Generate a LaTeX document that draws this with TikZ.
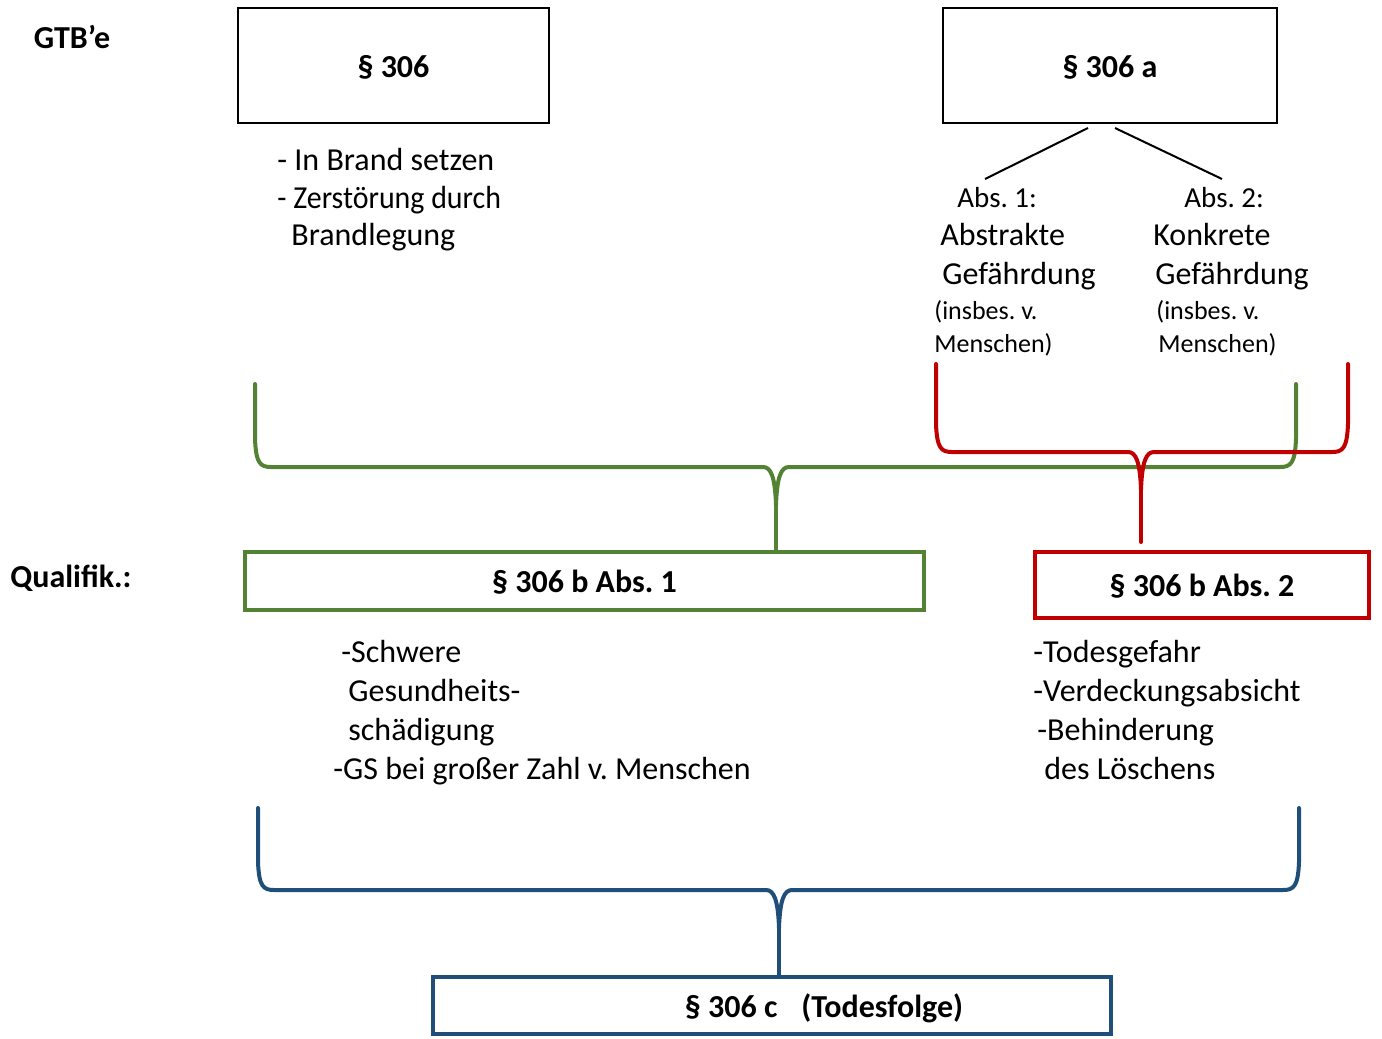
\documentclass[tikz,border=0pt]{standalone}
\usepackage{fontspec}
\usepackage{graphicx}
\setmainfont{Carlito}
\frenchspacing
\usetikzlibrary{positioning,calc}

\definecolor{gruen}{HTML}{548235}
\definecolor{rot}{HTML}{C00000}
\definecolor{blau}{HTML}{1F4E79}

\tikzset{
  kasten/.style={draw, line width=1pt, inner sep=0pt, text height=11.5pt, text depth=0pt,
    font=\fontsize{16}{19.5}\selectfont\bfseries},
  farbkasten/.style={kasten, line width=2pt, draw=#1},
  zeile/.style={anchor=base west, inner sep=0pt, font=\fontsize{16}{19.5}\selectfont},
  klein/.style={zeile, font=\fontsize{13}{16}\selectfont},
  absz/.style={zeile, font=\fontsize{14.5}{17}\selectfont},
  klammer/.style={line width=2pt, draw=#1, line join=round, line cap=round}
}

% geschweifte Klammer: Stil, links, rechts, oben, Querbalken, Spitze, Name der Spitze
\newcommand{\klammer}[7]{%
  \draw[klammer=#1] (#2,#4) -- (#2,#5-28) .. controls (#2+1,#5-4) and (#2+5,#5) .. (#2+16,#5)
    -- (#6-13,#5) .. controls (#6-5,#5) and (#6-1,#5+10) .. (#6,#5+38) coordinate (#7)
    .. controls (#6+1,#5+10) and (#6+5,#5) .. (#6+13,#5)
    -- (#3-16,#5) .. controls (#3-5,#5) and (#3-1,#5-4) .. (#3,#5-28) -- (#3,#4);}

\begin{document}
\begin{tikzpicture}[x=0.5pt, y=-0.5pt]
\useasboundingbox (0,0) rectangle (1382,1039);

% Zeilenkoepfe
\node[font=\fontsize{16}{19.5}\selectfont\bfseries] (gtb) at (72,37) {GTB’e};
\node[anchor=west, inner sep=0pt, font=\fontsize{16}{19.5}\selectfont\bfseries] (quali) at (10,578) {Qualifik.:};

% Kaesten
\node[kasten, minimum width=155.5pt, minimum height=57.5pt] (s306) at (393.5,65.5) {§ 306};
\node[kasten, minimum width=167pt, minimum height=57.5pt] (s306a) at (1110,65.5) {§ 306 a};
\node[farbkasten=gruen, minimum width=339.5pt, minimum height=29pt] (s306b1) at (584.5,581) {§ 306 b Abs. 1};
\node[farbkasten=rot, minimum width=167pt, minimum height=33pt] (s306b2) at (1202,585) {§ 306 b Abs. 2};
\node[farbkasten=blau, minimum width=339pt, minimum height=28.5pt] (s306c) at (772,1005.5)
  {\hspace*{52pt}§ 306 c\hspace{0.75em}(Todesfolge)};

% Texte
\foreach \x/\y/\t [count=\i] in {277/170/{- In Brand setzen},
    291/245/{Brandlegung}, 940/245/{Abstrakte}, 942/284/{Gefährdung},
    1153/245/{Konkrete}, 1155/284/{Gefährdung},
    341/662/{-Schwere}, 348/701/{Gesundheits-}, 348/740/{schädigung},
    333/779/{-GS bei großer Zahl v. Menschen},
    1033/662/{-Todesgefahr}, 1033/701/{-Verdeckungsabsicht},
    1037/740/{-Behinderung}, 1044/779/{des Löschens}}
  \node[zeile] (z\i) at (\x,\y) {\t};
\node[zeile] (zerst) at (277,208) {\scalebox{0.935}[1]{- Zerstörung durch}};
\node[absz] (abs1) at (957,207) {Abs. 1:};
\node[absz] (abs2) at (1184,207) {Abs. 2:};
\node[klein] (ins1) at (934,319) {(insbes. v.};
\node[klein] (men1) at (934,352) {Menschen)};
\node[klein] (ins2) at (1156,319) {(insbes. v.};
\node[klein] (men2) at (1158,352) {Menschen)};

% Verzweigung § 306 a
\coordinate (abs1top) at (985,179);
\coordinate (abs2top) at (1222,179);
\draw[line width=1pt] ([shift={(-22,4)}]s306a.south) -- (abs1top);
\draw[line width=1pt] ([shift={(5,4)}]s306a.south) -- (abs2top);

% Klammern
\klammer{gruen}{255}{1296}{384}{467}{776}{gtip}
\draw[klammer=gruen] (gtip) -- (gtip |- s306b1.north);
\klammer{rot}{936}{1348}{364}{452}{1141}{rtip}
\draw[klammer=rot] (rtip) -- ($(rtip |- s306b2.north)+(0,-8)$);
\klammer{blau}{258}{1299}{808}{890}{779}{btip}
\draw[klammer=blau] (btip) -- (btip |- s306c.north);
\end{tikzpicture}
\end{document}
